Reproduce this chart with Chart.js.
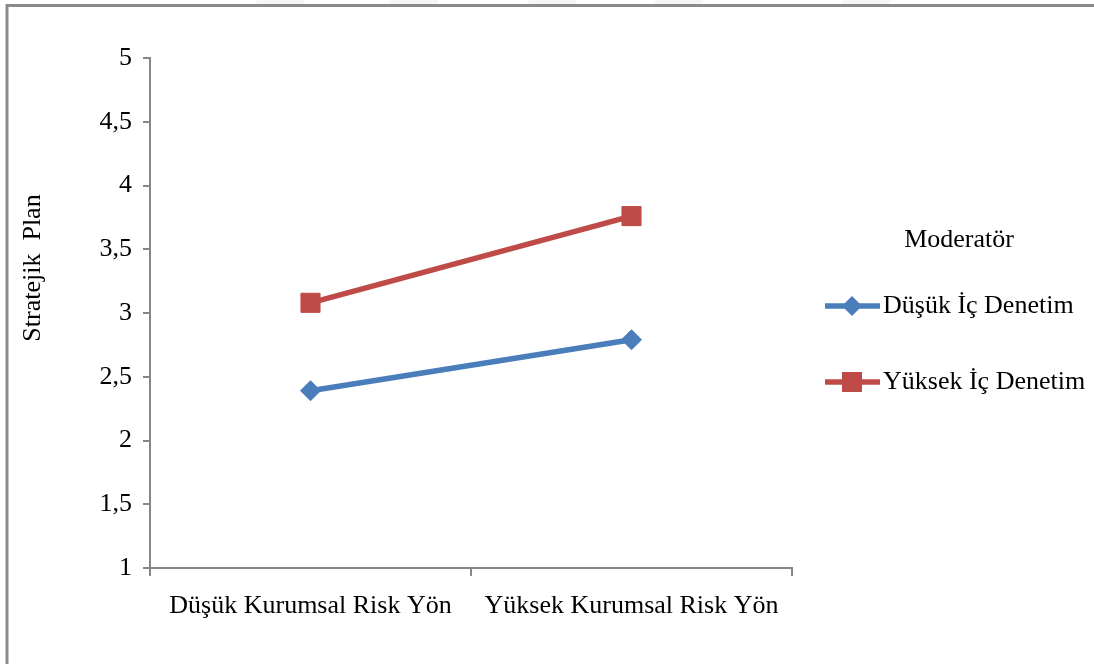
<!DOCTYPE html>
<html>
<head>
<meta charset="utf-8">
<script src="https://cdn.jsdelivr.net/npm/chart.js@4.4.1/dist/chart.umd.min.js"></script>
<style>
  html, body { margin: 0; padding: 0; background: #ffffff; }
  #wrap { width: 1094px; height: 664px; position: relative; }
</style>
</head>
<body>
<div id="wrap"><canvas id="c" width="1094" height="664"></canvas></div>
<script>
// Categories on the x axis
const categories = ['Düşük Kurumsal Risk Yön', 'Yüksek Kurumsal Risk Yön'];
// Series values (Stratejik Plan)
const dusukIcDenetim = [2.39, 2.79];
const yuksekIcDenetim = [3.08, 3.76];
// Series names and legend heading
const seriesNames = ['Düşük İç Denetim', 'Yüksek İç Denetim'];
const legendTitle = 'Moderatör';
const yAxisTitle = 'Stratejik  Plan';
// Value axis range
const yMin = 1, yMax = 5, yStep = 0.5;

const FONT = '"Liberation Serif", "Times New Roman", serif';
const AXIS_GRAY = '#868686';
const BLUE = '#4A7EBB';
const RED = '#BE4B48';

// Page frame, white background and the y axis title
const framePlugin = {
  id: 'frame',
  beforeDraw(chart) {
    const ctx = chart.ctx;
    ctx.save();
    ctx.fillStyle = '#ffffff';
    ctx.fillRect(0, 0, chart.width, chart.height);
    // faint shapes behind the top edge
    ctx.fillStyle = '#f6f6f6';
    [258, 391, 530, 656, 844].forEach(x0 => {
      ctx.beginPath();
      ctx.moveTo(x0, 0); ctx.lineTo(x0 + 48, 0);
      ctx.lineTo(x0 + 44, 5); ctx.lineTo(x0 - 4, 5);
      ctx.closePath(); ctx.fill();
    });
    ctx.strokeStyle = '#8a8a8a';
    ctx.lineWidth = 3;
    ctx.beginPath();
    ctx.moveTo(7, chart.height);
    ctx.lineTo(7, 5.5);
    ctx.lineTo(chart.width, 5.5);
    ctx.stroke();
    // rotated axis title
    ctx.fillStyle = '#000000';
    ctx.font = '26px ' + FONT;
    ctx.textAlign = 'center';
    ctx.textBaseline = 'middle';
    ctx.translate(33, 268);
    ctx.rotate(-Math.PI / 2);
    ctx.fillText(yAxisTitle, 0, 0);
    ctx.restore();
  }
};

// Legend to the right of the plot
const sideLegendPlugin = {
  id: 'sideLegend',
  afterDraw(chart) {
    const ctx = chart.ctx;
    ctx.save();
    ctx.fillStyle = '#000000';
    ctx.font = '26px ' + FONT;
    ctx.textBaseline = 'middle';
    ctx.textAlign = 'center';
    ctx.fillText(legendTitle, 959, 240);
    const rows = [306, 382];
    chart.data.datasets.forEach((ds, i) => {
      const y = rows[i];
      ctx.strokeStyle = ds.borderColor;
      ctx.lineWidth = 5.5;
      ctx.beginPath();
      ctx.moveTo(825, y); ctx.lineTo(880, y);
      ctx.stroke();
      ctx.fillStyle = ds.pointBackgroundColor;
      const cx = 852;
      ctx.beginPath();
      if (ds.pointStyle === 'rectRot') {
        const r = 10;
        ctx.moveTo(cx - r, y); ctx.lineTo(cx, y - r);
        ctx.lineTo(cx + r, y); ctx.lineTo(cx, y + r);
      } else {
        const h = 10;
        ctx.rect(cx - h, y - h, 2 * h, 2 * h);
      }
      ctx.closePath();
      ctx.fill();
      ctx.fillStyle = '#000000';
      ctx.textAlign = 'left';
      ctx.fillText(ds.label, 883, y);
    });
    ctx.restore();
  }
};

new Chart(document.getElementById('c'), {
  type: 'line',
  data: {
    labels: categories,
    datasets: [
      {
        label: seriesNames[0],
        data: dusukIcDenetim,
        borderColor: BLUE,
        backgroundColor: BLUE,
        pointBackgroundColor: BLUE,
        pointBorderColor: BLUE,
        pointStyle: 'rectRot',
        pointRadius: 10,
        pointBorderWidth: 1,
        borderWidth: 5.5,
        tension: 0
      },
      {
        label: seriesNames[1],
        data: yuksekIcDenetim,
        borderColor: RED,
        backgroundColor: RED,
        pointBackgroundColor: RED,
        pointBorderColor: RED,
        pointStyle: 'rect',
        pointRadius: 13.5,
        pointBorderWidth: 1,
        borderWidth: 5.5,
        tension: 0
      }
    ]
  },
  options: {
    responsive: false,
    animation: false,
    devicePixelRatio: 1,
    layout: { padding: { left: 0, top: 58, right: 302, bottom: 0 } },
    plugins: {
      legend: { display: false },
      tooltip: { enabled: false },
      title: { display: false }
    },
    scales: {
      x: {
        type: 'category',
        offset: true,
        grid: {
          offset: true,
          drawOnChartArea: false,
          drawTicks: true,
          tickLength: 8,
          color: AXIS_GRAY,
          lineWidth: 2
        },
        border: { display: true, color: AXIS_GRAY, width: 2 },
        ticks: {
          color: '#000000',
          font: { family: FONT, size: 26 },
          padding: 15,
          maxRotation: 0,
          autoSkip: false
        },
        afterFit(scale) { scale.height = 96; }
      },
      y: {
        min: yMin,
        max: yMax,
        grid: {
          drawOnChartArea: false,
          drawTicks: true,
          tickLength: 7,
          color: AXIS_GRAY,
          lineWidth: 2
        },
        border: { display: true, color: AXIS_GRAY, width: 2 },
        ticks: {
          stepSize: yStep,
          color: '#000000',
          font: { family: FONT, size: 26 },
          padding: 11,
          callback: v => String(v).replace('.', ',')
        },
        afterFit(scale) { scale.width = 150; }
      }
    }
  },
  plugins: [framePlugin, sideLegendPlugin]
});
</script>
</body>
</html>
